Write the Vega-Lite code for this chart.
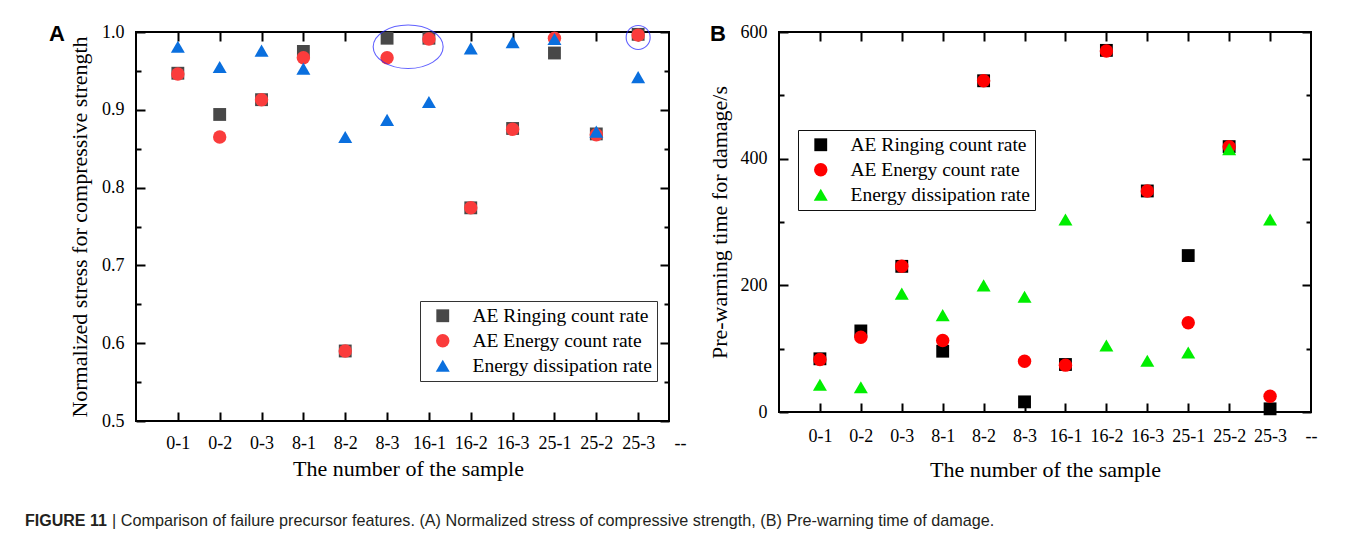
{
  "$schema": "https://vega.github.io/schema/vega-lite/v6.json",
  "padding": {"left": 25, "top": 21, "right": 5, "bottom": 5},
  "datasets": {
    "a": [
      {"sample": "0-1", "series": "AE Ringing count rate", "value": 0.947},
      {"sample": "0-2", "series": "AE Ringing count rate", "value": 0.894},
      {"sample": "0-3", "series": "AE Ringing count rate", "value": 0.913},
      {"sample": "8-1", "series": "AE Ringing count rate", "value": 0.975},
      {"sample": "8-2", "series": "AE Ringing count rate", "value": 0.590},
      {"sample": "8-3", "series": "AE Ringing count rate", "value": 0.992},
      {"sample": "16-1", "series": "AE Ringing count rate", "value": 0.992},
      {"sample": "16-2", "series": "AE Ringing count rate", "value": 0.774},
      {"sample": "16-3", "series": "AE Ringing count rate", "value": 0.876},
      {"sample": "25-1", "series": "AE Ringing count rate", "value": 0.973},
      {"sample": "25-2", "series": "AE Ringing count rate", "value": 0.869},
      {"sample": "25-3", "series": "AE Ringing count rate", "value": 0.997},
      {"sample": "0-1", "series": "AE Energy count rate", "value": 0.946},
      {"sample": "0-2", "series": "AE Energy count rate", "value": 0.865},
      {"sample": "0-3", "series": "AE Energy count rate", "value": 0.913},
      {"sample": "8-1", "series": "AE Energy count rate", "value": 0.967},
      {"sample": "8-2", "series": "AE Energy count rate", "value": 0.590},
      {"sample": "8-3", "series": "AE Energy count rate", "value": 0.967},
      {"sample": "16-1", "series": "AE Energy count rate", "value": 0.991},
      {"sample": "16-2", "series": "AE Energy count rate", "value": 0.774},
      {"sample": "16-3", "series": "AE Energy count rate", "value": 0.875},
      {"sample": "25-1", "series": "AE Energy count rate", "value": 0.992},
      {"sample": "25-2", "series": "AE Energy count rate", "value": 0.868},
      {"sample": "25-3", "series": "AE Energy count rate", "value": 0.996},
      {"sample": "0-1", "series": "Energy dissipation rate", "value": 0.981},
      {"sample": "0-2", "series": "Energy dissipation rate", "value": 0.955},
      {"sample": "0-3", "series": "Energy dissipation rate", "value": 0.976},
      {"sample": "8-1", "series": "Energy dissipation rate", "value": 0.953},
      {"sample": "8-2", "series": "Energy dissipation rate", "value": 0.865},
      {"sample": "8-3", "series": "Energy dissipation rate", "value": 0.887},
      {"sample": "16-1", "series": "Energy dissipation rate", "value": 0.910},
      {"sample": "16-2", "series": "Energy dissipation rate", "value": 0.979},
      {"sample": "16-3", "series": "Energy dissipation rate", "value": 0.987},
      {"sample": "25-1", "series": "Energy dissipation rate", "value": 0.991},
      {"sample": "25-2", "series": "Energy dissipation rate", "value": 0.872},
      {"sample": "25-3", "series": "Energy dissipation rate", "value": 0.942}
    ],
    "b": [
      {"sample": "0-1", "series": "AE Ringing count rate", "value": 84},
      {"sample": "0-2", "series": "AE Ringing count rate", "value": 128},
      {"sample": "0-3", "series": "AE Ringing count rate", "value": 230},
      {"sample": "8-1", "series": "AE Ringing count rate", "value": 96},
      {"sample": "8-2", "series": "AE Ringing count rate", "value": 523},
      {"sample": "8-3", "series": "AE Ringing count rate", "value": 16},
      {"sample": "16-1", "series": "AE Ringing count rate", "value": 75},
      {"sample": "16-2", "series": "AE Ringing count rate", "value": 571},
      {"sample": "16-3", "series": "AE Ringing count rate", "value": 349},
      {"sample": "25-1", "series": "AE Ringing count rate", "value": 247},
      {"sample": "25-2", "series": "AE Ringing count rate", "value": 419},
      {"sample": "25-3", "series": "AE Ringing count rate", "value": 5},
      {"sample": "0-1", "series": "AE Energy count rate", "value": 83},
      {"sample": "0-2", "series": "AE Energy count rate", "value": 118},
      {"sample": "0-3", "series": "AE Energy count rate", "value": 230},
      {"sample": "8-1", "series": "AE Energy count rate", "value": 113},
      {"sample": "8-2", "series": "AE Energy count rate", "value": 523},
      {"sample": "8-3", "series": "AE Energy count rate", "value": 80},
      {"sample": "16-1", "series": "AE Energy count rate", "value": 74},
      {"sample": "16-2", "series": "AE Energy count rate", "value": 570},
      {"sample": "16-3", "series": "AE Energy count rate", "value": 349},
      {"sample": "25-1", "series": "AE Energy count rate", "value": 141},
      {"sample": "25-2", "series": "AE Energy count rate", "value": 419},
      {"sample": "25-3", "series": "AE Energy count rate", "value": 25},
      {"sample": "0-1", "series": "Energy dissipation rate", "value": 43},
      {"sample": "0-2", "series": "Energy dissipation rate", "value": 39},
      {"sample": "0-3", "series": "Energy dissipation rate", "value": 187},
      {"sample": "8-1", "series": "Energy dissipation rate", "value": 153},
      {"sample": "8-2", "series": "Energy dissipation rate", "value": 200},
      {"sample": "8-3", "series": "Energy dissipation rate", "value": 182},
      {"sample": "16-1", "series": "Energy dissipation rate", "value": 304},
      {"sample": "16-2", "series": "Energy dissipation rate", "value": 105},
      {"sample": "16-3", "series": "Energy dissipation rate", "value": 81},
      {"sample": "25-1", "series": "Energy dissipation rate", "value": 94},
      {"sample": "25-2", "series": "Energy dissipation rate", "value": 415},
      {"sample": "25-3", "series": "Energy dissipation rate", "value": 304}
    ],
    "ellipseA": [{"sample": "8-3", "value": 0.981}],
    "circleA": [{"sample": "25-3", "value": 0.993}]
  },
  "title": {
    "text": "FIGURE 11",
    "orient": "bottom",
    "anchor": "start",
    "frame": "bounds",
    "font": "Liberation Sans",
    "fontSize": 16,
    "fontWeight": "bold",
    "color": "#231f20",
    "dx": -23,
    "dy": -16,
    "offset": 0
  },
  "vconcat": [
    {
      "bounds": "flush",
      "spacing": 110,
      "resolve": {
        "scale": {"color": "independent", "shape": "independent", "size": "independent"},
        "legend": {"color": "independent", "shape": "independent"}
      },
      "title": {
        "text": "| Comparison of failure precursor features. (A) Normalized stress of compressive strength, (B) Pre-warning time of damage.",
        "orient": "bottom",
        "anchor": "start",
        "frame": "bounds",
        "font": "Liberation Sans",
        "fontSize": 16.2,
        "fontWeight": "normal",
        "color": "#231f20",
        "dx": 64,
        "offset": 32
      },
      "hconcat": [
        {
          "width": 533,
          "height": 389,
          "title": {"text": "A", "anchor": "start", "frame": "group", "font": "Liberation Sans", "fontSize": 22, "fontWeight": "bold", "color": "black", "baseline": "alphabetic", "offset": 0, "dx": -87, "dy": 40},
          "layer": [
            {
              "data": {"name": "a"},
              "mark": {"type": "point", "filled": true, "opacity": 1},
              "encoding": {
                "x": {
                  "field": "sample", "type": "ordinal",
                  "scale": {"type": "point", "domain": ["0-1","0-2","0-3","8-1","8-2","8-3","16-1","16-2","16-3","25-1","25-2","25-3","--"], "range": [0, 544], "padding": 0.5, "align": 1},
                  "axis": {"orient": "bottom", "title": "The number of the sample", "labelAngle": 0, "labelPadding": 22, "titlePadding": 6, "labelOverlap": false, "labelFlush": false, "tickSize": -9, "tickOpacity": {"condition": {"test": "datum.value === '--'", "value": 0}, "value": 1}}
                },
                "y": {
                  "field": "value", "type": "quantitative",
                  "scale": {"domain": [0.5, 1.0], "nice": false, "zero": false},
                  "axis": {"orient": "left", "title": "Normalized stress for compressive strength", "values": [0.5,0.55,0.6,0.65,0.7,0.75,0.8,0.85,0.9,0.95,1.0], "labelExpr": "round(datum.value*100) % 10 != 0 ? '' : format(datum.value, '.1f')", "tickSize": {"condition": {"test": "round(datum.value*100) % 10 != 0", "value": -5}, "value": -9}, "labelPadding": 21, "titlePadding": 10}
                },
                "color": {
                  "field": "series", "type": "nominal",
                  "scale": {"domain": ["AE Ringing count rate", "AE Energy count rate", "Energy dissipation rate"], "range": ["#484848", "#fa3c3c", "#0a6fde"]},
                  "legend": {"orient": "none", "legendX": 284, "legendY": 269, "strokeColor": "#333333"}
                },
                "shape": {
                  "field": "series", "type": "nominal",
                  "scale": {"domain": ["AE Ringing count rate", "AE Energy count rate", "Energy dissipation rate"], "range": ["square", "circle", "triangle-up"]},
                  "legend": {"orient": "none", "legendX": 284, "legendY": 269, "strokeColor": "#333333"}
                },
                "size": {
                  "field": "series", "type": "nominal",
                  "scale": {"domain": ["AE Ringing count rate", "AE Energy count rate", "Energy dissipation rate"], "range": [165, 196, 256]},
                  "legend": null
                }
              }
            },
            {
              "data": {"name": "ellipseA"},
              "mark": {"type": "point", "filled": false, "stroke": "#1f1fff", "strokeWidth": 1.1, "size": 7056, "shape": "M1.335,0C1.335,0.286,0.962,0.517,0.502,0.517C0.042,0.517,-0.331,0.286,-0.331,0C-0.331,-0.286,0.042,-0.517,0.502,-0.517C0.962,-0.517,1.335,-0.286,1.335,0Z"},
              "encoding": {
                "x": {"field": "sample", "type": "ordinal", "axis": {"orient": "top", "labels": false, "title": null, "tickSize": -9, "tickOpacity": {"condition": {"test": "datum.value === '--'", "value": 0}, "value": 1}}},
                "y": {"field": "value", "type": "quantitative", "axis": {"orient": "right", "labels": false, "title": null, "values": [0.5,0.55,0.6,0.65,0.7,0.75,0.8,0.85,0.9,0.95,1.0], "tickSize": {"condition": {"test": "round(datum.value*100) % 10 != 0", "value": -5}, "value": -9}}}
              }
            },
            {
              "data": {"name": "circleA"},
              "mark": {"type": "point", "filled": false, "stroke": "#1f1fff", "strokeWidth": 1.1, "size": 576, "shape": "circle"},
              "encoding": {
                "x": {"field": "sample", "type": "ordinal", "axis": null},
                "y": {"field": "value", "type": "quantitative", "axis": null}
              }
            }
          ],
          "resolve": {"axis": {"x": "independent", "y": "independent"}}
        },
        {
          "width": 532,
          "height": 380,
          "title": {"text": "B", "anchor": "start", "frame": "group", "font": "Liberation Sans", "fontSize": 22, "fontWeight": "bold", "color": "black", "baseline": "alphabetic", "offset": 0, "dx": -69, "dy": 40},
          "layer": [
            {
              "data": {"name": "b"},
              "mark": {"type": "point", "filled": true, "opacity": 1},
              "encoding": {
                "x": {
                  "field": "sample", "type": "ordinal",
                  "scale": {"type": "point", "domain": ["0-1","0-2","0-3","8-1","8-2","8-3","16-1","16-2","16-3","25-1","25-2","25-3","--"], "padding": 0.5, "align": 1},
                  "axis": {"orient": "bottom", "title": "The number of the sample", "labelAngle": 0, "labelPadding": 24, "titlePadding": 14, "labelOverlap": false, "labelFlush": false, "tickSize": -9, "tickOpacity": {"condition": {"test": "datum.value === '--'", "value": 0}, "value": 1}}
                },
                "y": {
                  "field": "value", "type": "quantitative",
                  "scale": {"domain": [0, 600], "nice": false, "zero": true},
                  "axis": {"orient": "left", "title": "Pre-warning time for damage/s", "values": [0,100,200,300,400,500,600], "labelExpr": "datum.value % 200 != 0 ? '' : datum.label", "tickSize": {"condition": {"test": "datum.value % 200 != 0", "value": -5}, "value": -9}, "labelPadding": 21, "titlePadding": 9}
                },
                "color": {
                  "field": "series", "type": "nominal",
                  "scale": {"domain": ["AE Ringing count rate", "AE Energy count rate", "Energy dissipation rate"], "range": ["#000000", "#ff0000", "#00ee00"]},
                  "legend": {"orient": "none", "legendX": 19, "legendY": 98, "strokeColor": "#111111"}
                },
                "shape": {
                  "field": "series", "type": "nominal",
                  "scale": {"domain": ["AE Ringing count rate", "AE Energy count rate", "Energy dissipation rate"], "range": ["square", "circle", "triangle-up"]},
                  "legend": {"orient": "none", "legendX": 19, "legendY": 98, "strokeColor": "#111111"}
                },
                "size": {
                  "field": "series", "type": "nominal",
                  "scale": {"domain": ["AE Ringing count rate", "AE Energy count rate", "Energy dissipation rate"], "range": [165, 196, 256]},
                  "legend": null
                }
              }
            },
            {
              "data": {"name": "b"},
              "mark": {"type": "point", "opacity": 0},
              "encoding": {
                "x": {"field": "sample", "type": "ordinal", "axis": {"orient": "top", "labels": false, "title": null, "tickSize": -9, "tickOpacity": {"condition": {"test": "datum.value === '--'", "value": 0}, "value": 1}}},
                "y": {"field": "value", "type": "quantitative", "axis": {"orient": "right", "labels": false, "title": null, "values": [0,100,200,300,400,500,600], "tickSize": {"condition": {"test": "datum.value % 200 != 0", "value": -5}, "value": -9}}}
              }
            }
          ],
          "resolve": {"axis": {"x": "independent", "y": "independent"}}
        }
      ]
    }
  ],
  "config": {
    "view": {"stroke": "black", "strokeWidth": 2},
    "axis": {"domain": false, "grid": false, "labelFont": "Liberation Serif", "labelFontSize": 18, "labelColor": "black", "titleFont": "Liberation Serif", "titleFontSize": 22, "titleFontWeight": "normal", "titleColor": "black", "tickColor": "black", "tickWidth": 2},
    "legend": {"title": null, "strokeWidth": 1, "fillColor": "white", "padding": 5, "symbolOffset": 8, "labelFont": "Liberation Serif", "labelFontSize": 19.5, "labelColor": "black", "labelLimit": 0, "symbolSize": 170, "rowPadding": 4, "labelOffset": 20, "symbolStrokeWidth": 0, "cornerRadius": 0}
  }
}
